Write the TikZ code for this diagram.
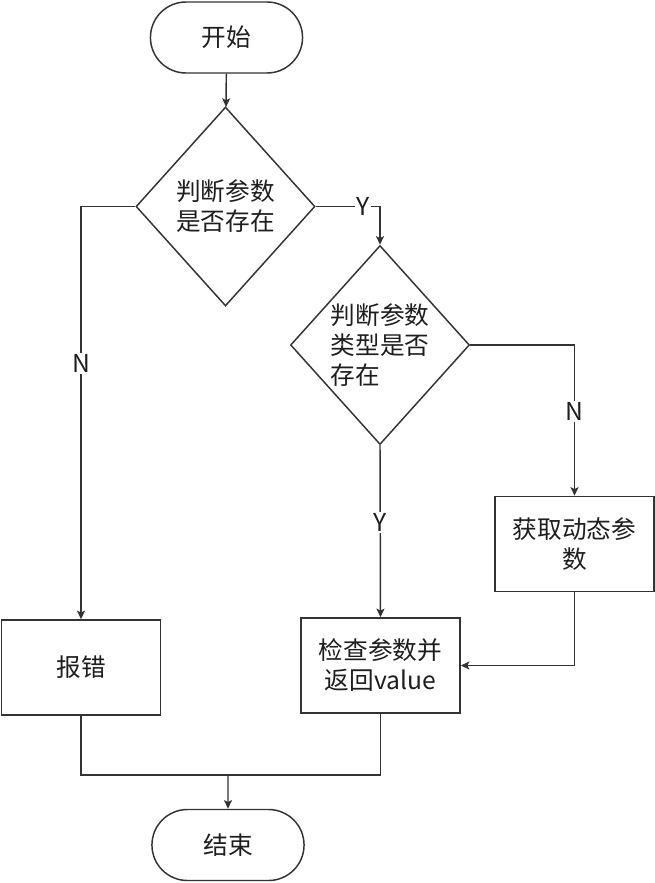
\documentclass[tikz,border=0pt]{standalone}
\usepackage{fontspec}
\setmainfont{Noto Sans CJK SC}
\usepackage{xcolor}
\definecolor{ink}{HTML}{333333}
\definecolor{txt}{HTML}{1E1E1E}
\usepackage{tikz}
\usetikzlibrary{arrows.meta,shapes.geometric,shapes.misc}
\tikzset{
  >={Stealth[length=6.5pt,width=6pt,inset=1.5pt]},
  term/.style   ={rounded rectangle,draw=ink,line width=1.1pt,fill=white,
                  minimum width=120.75pt,minimum height=53.25pt,text=txt},
  decide/.style ={diamond,draw=ink,line width=1.1pt,fill=white,inner sep=-6pt,
                  minimum width=134.25pt,minimum height=149.25pt,text=txt},
  stepbox/.style={rectangle,draw=ink,line width=1.1pt,fill=white,align=center,
                  minimum width=119.25pt,minimum height=71.25pt,text=txt},
  lbl/.style    ={fill=white,inner sep=1pt,text=txt},
  flow/.style   ={->,draw=ink,line width=1.1pt},
  wire/.style   ={draw=ink,line width=1.1pt},
}
\begin{document}
\begin{tikzpicture}[x=0.75pt,y=-0.75pt,font=\fontsize{18.5}{22.5}\selectfont]
\useasboundingbox (0,0) rectangle (655,883);
\node[term] (start) at (226.5,37.5) {开始};
\node[decide,align=center] (q1) at (225.5,206.5) {判断参数\\是否存在};
\node[decide,align=left] (q2) at (380,345) {判断参数\\类型是否\\存在};
\node[stepbox] (fetch) at (574.5,544) {获取动态参\\数};
\node[stepbox] (err) at (81,667.5) {报错};
\node[stepbox] (check) at (380.5,665.5) {检查参数并\\返回value};
\node[term] (stop) at (228,845) {结束};
\coordinate (join) at (228,775);
\draw[flow] (start) -- (q1);
\draw[flow] (q1.east) -- node[lbl,pos=.74]{Y} (q1.east -| q2.north) -- (q2.north);
\draw[flow] (q1.west) -| node[lbl,pos=.69]{N} (err.north);
\draw[flow] (q2.east) -| node[lbl,pos=.72]{N} (fetch.north);
\draw[flow] (q2.south) -- node[lbl,pos=.45]{Y} (check.north);
\draw[flow] (fetch.south) |- (check.east);
\draw[wire] (err.south) |- (join) -| (check.south);
\draw[flow] (join) -- (stop);
\end{tikzpicture}
\end{document}
